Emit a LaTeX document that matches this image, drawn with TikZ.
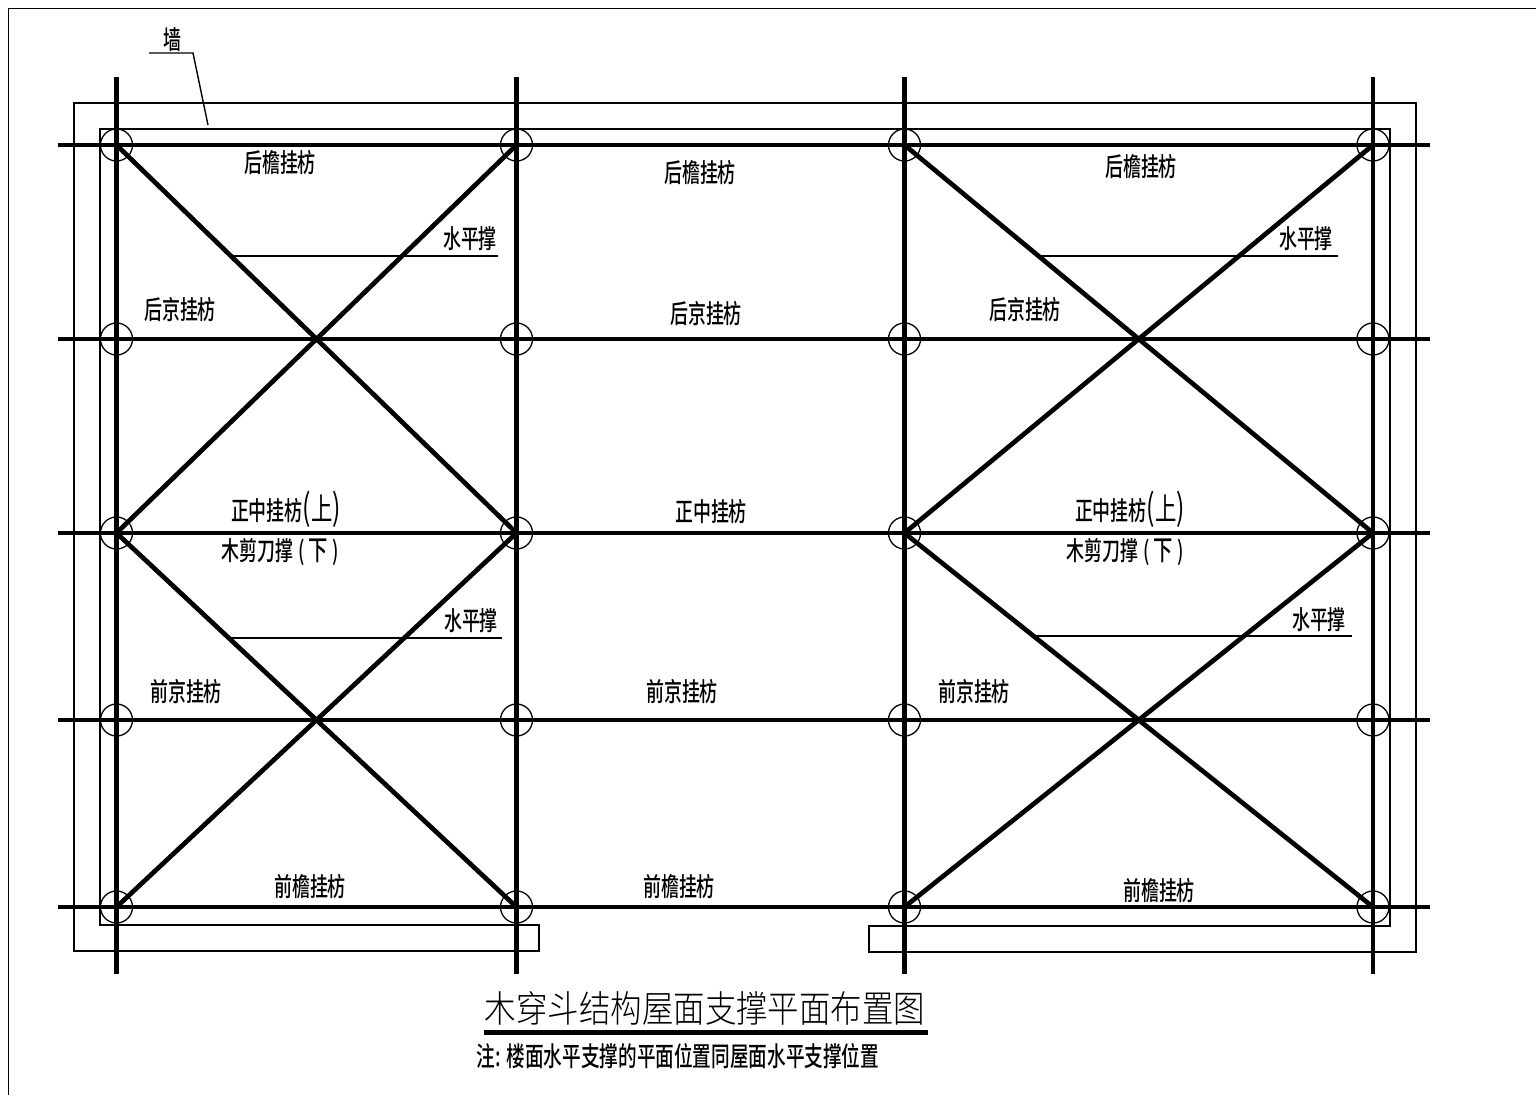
\documentclass[tikz,border=0pt]{standalone}
\usepackage{fontspec}
\newfontfamily\cjk{Noto Sans CJK SC Medium}
\newfontfamily\cjkreg{Noto Sans CJK SC}
\newfontfamily\cjklight{Noto Sans CJK SC Light}
\newcommand{\bigp}[1]{{\cjkreg\fontsize{36}{26}\selectfont #1}}
\newcommand{\bigc}[1]{{\cjkreg\fontsize{31}{26}\selectfont #1}}
\newcommand{\midc}[1]{{\fontsize{28}{26}\selectfont #1}}
\begin{document}
\begin{tikzpicture}[x=1pt,y=-1pt,line join=miter,
  heavy/.style={line width=4.7pt,black},
  thin line/.style={line width=1.4pt,black},
  wall/.style={line width=1.5pt,black},
  axis circle/.style={circle,draw=black,line width=1.3pt,minimum size=32pt,inner sep=0pt,outer sep=0pt},
  lbl/.style={font=\cjk\fontsize{26}{26}\selectfont,xscale=0.69,inner sep=0pt},
  lbln/.style={font=\cjk\fontsize{27}{27}\selectfont,xscale=0.69,inner sep=0pt}]
\useasboundingbox (0,0) rectangle (1536,1095);
% sheet frame
\coordinate (fa) at (8.5,1095); \coordinate (fb) at (8.5,8.5); \coordinate (fc) at (1536,8.5);
\draw[wall] (fa) -- (fb) -- (fc);
% wall outline
\draw[wall] (100,925) -- (539,925) -- (539,951) -- (74,951) -- (74,103) -- (1416,103) -- (1416,952) -- (869,952) -- (869,926) -- (1390,926) -- (1390,129) -- (100,129) -- cycle;
% grid axes
\foreach \nm/\x in {a/116.5,b/516.5,c/904.5,d/1373}{
  \foreach \mm/\y in {1/145,2/339,3/533,4/720,5/907}{
    \node[axis circle] (\nm\mm) at (\x,\y) {};
  }
  \coordinate (\nm t) at (\x,77); \coordinate (\nm e) at (\x,974);
  \draw[heavy] (\nm t) -- (\nm e);
}
\foreach \mm/\y in {1/145,2/339,3/533,4/720,5/907}{
  \coordinate (l\mm) at (58,\y); \coordinate (r\mm) at (1430,\y);
  \draw[heavy] (l\mm) -- (r\mm);
}
% diagonal braces
\draw[heavy] (a1.center) -- (b3.center);
\draw[heavy] (b1.center) -- (a3.center);
\draw[heavy] (a3.center) -- (b5.center);
\draw[heavy] (a5.center) -- (b3.center);
\draw[heavy] (c1.center) -- (d3.center);
\draw[heavy] (d1.center) -- (c3.center);
\draw[heavy] (c3.center) -- (d5.center);
\draw[heavy] (c5.center) -- (d3.center);
% leaders
\coordinate (wa) at (149,53); \coordinate (wb) at (193,53); \coordinate (wc) at (208,125);
\draw[thin line] (wa) -- (wb) -- (wc);
\coordinate (h1a) at (232,256); \coordinate (h1b) at (498,256); \draw[thin line] (h1a) -- (h1b);
\coordinate (h2a) at (1038,256); \coordinate (h2b) at (1338,256); \draw[thin line] (h2a) -- (h2b);
\coordinate (h3a) at (230,638); \coordinate (h3b) at (502,638); \draw[thin line] (h3a) -- (h3b);
\coordinate (h4a) at (1036,636); \coordinate (h4b) at (1352,636); \draw[thin line] (h4a) -- (h4b);
% labels
\node[lbl] (wt) at (172,40) {墙};
\node[lbl] (t1) at (280,163) {后檐挂枋};
\node[lbl] (t2) at (700,173) {后檐挂枋};
\node[lbl] (t3) at (1141,167) {后檐挂枋};
\node[lbl] (s1) at (470,239) {水平撑};
\node[lbl] (s2) at (1306,239) {水平撑};
\node[lbl] (s3) at (471,621) {水平撑};
\node[lbl] (s4) at (1319,620) {水平撑};
\node[lbl] (j1) at (180,310) {后京挂枋};
\node[lbl] (j2) at (706,314) {后京挂枋};
\node[lbl] (j3) at (1025,310) {后京挂枋};
\node[lbl,anchor=base] (z1) at (286,520) {正中挂枋\bigp(\bigc{上}\bigp)};
\node[lbl] (z2) at (711,512) {正中挂枋};
\node[lbl,anchor=base] (z3) at (1130,520) {正中挂枋\bigp(\bigc{上}\bigp)};
\node[lbl,anchor=base] (m1) at (280,560) {木剪刀撑\hspace{7pt}(\hspace{6pt}\midc{下}\hspace{6pt})};
\node[lbl,anchor=base] (m2) at (1125,560) {木剪刀撑\hspace{7pt}(\hspace{6pt}\midc{下}\hspace{6pt})};
\node[lbl] (q1) at (186,692) {前京挂枋};
\node[lbl] (q2) at (682,692) {前京挂枋};
\node[lbl] (q3) at (974,692) {前京挂枋};
\node[lbl] (y1) at (310,887) {前檐挂枋};
\node[lbl] (y2) at (679,887) {前檐挂枋};
\node[lbl] (y3) at (1159,891) {前檐挂枋};
% title
\node[font=\cjklight\fontsize{37}{37}\selectfont,xscale=0.85,inner sep=0pt] (title) at (705,1008) {木穿斗结构屋面支撑平面布置图};
\coordinate (ua) at (484,1032); \coordinate (ub) at (928,1032);
\draw[line width=5pt] (ua) -- (ub);
\node[lbln] (note) at (678,1056) {注: 楼面水平支撑的平面位置同屋面水平支撑位置};
\end{tikzpicture}
\end{document}
